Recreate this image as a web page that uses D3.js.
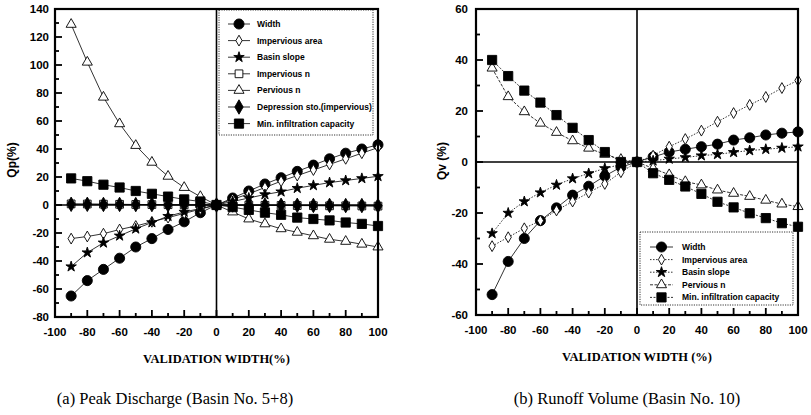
<!DOCTYPE html>
<html>
<head>
<meta charset="utf-8">
<script src="https://cdn.jsdelivr.net/npm/d3@7"></script>
<style>
  html, body { margin: 0; padding: 0; background: #fff; }
  svg { display: block; }
</style>
</head>
<body>
<svg id="chart" width="811" height="415"></svg>
<script>
// Validation width steps (%)
const widthSteps = [-90, -80, -70, -60, -50, -40, -30, -20, -10, 0, 10, 20, 30, 40, 50, 60, 70, 80, 90, 100];
const xTicks = [-100, -80, -60, -40, -20, 0, 20, 40, 60, 80, 100];

// (a) Peak discharge change Qp (%) for each parameter
const qpWidth      = [-65, -54, -46, -38, -30, -24, -17.5, -12, -5.5, 0, 5, 10, 15, 19.5, 24, 28.5, 33, 37, 40, 43];
const qpImpArea    = [-24, -22.5, -20.5, -17.5, -15, -12, -9, -6, -3, 0, 4, 8, 12.5, 17, 21, 25, 29, 33, 37, 41];
const qpSlope      = [-44, -34, -27, -22, -17, -12.5, -8, -5, -2.5, 0, 2.5, 5, 7.5, 9.5, 12, 14, 16, 17.5, 19, 20.5];
const qpImpN       = [0.8, 0.7, 0.6, 0.5, 0.4, 0.3, 0.2, 0.1, 0.1, 0, -0.1, -0.1, -0.2, -0.3, -0.4, -0.5, -0.6, -0.6, -0.7, -0.8];
const qpPervN      = [129, 102, 77, 58, 42.5, 30.5, 20.5, 12.5, 6, 0, -5, -10, -13.5, -17, -19.5, -22, -24.5, -26, -28, -30];
const qpDepStorage = [0.5, 0.5, 0.4, 0.4, 0.3, 0.3, 0.2, 0.1, 0.1, 0, 0, -0.1, -0.1, -0.2, -0.2, -0.3, -0.3, -0.4, -0.4, -0.5];
const qpMinInfil   = [19, 17, 14.5, 12.5, 10, 8, 6, 4, 2.5, 0, -1.5, -3.5, -5.5, -7, -9, -10, -11, -12.5, -13.5, -15];
const qpTicks = [-80, -60, -40, -20, 0, 20, 40, 60, 80, 100, 120, 140];

// (b) Runoff volume change Qv (%) for each parameter
const qvWidth      = [-52, -39, -30, -23, -18, -13, -9.5, -5.5, -2, 0, 2, 3.9, 5, 6, 7, 8.6, 9.5, 10.6, 11.3, 11.8];
const qvImpArea    = [-33, -29.5, -26, -23, -19, -15.5, -12, -8.6, -4, 0, 2.5, 6, 9, 12.3, 15.8, 19.2, 22.4, 25.5, 29, 32];
const qvSlope      = [-28, -20, -15.5, -12, -9, -6.5, -4.5, -2.5, -1, 0, 0.5, 1.2, 1.8, 2.5, 3, 3.8, 4.5, 5, 5.5, 6];
const qvPervN      = [36.8, 25.6, 19.7, 15.2, 11.6, 8.3, 5.4, 3, 1, 0, -2.5, -5, -7.7, -9, -11, -12.3, -13.5, -15, -16.5, -17.5];
const qvMinInfil   = [40, 33.7, 28, 23.3, 18.4, 13.4, 8.6, 3.9, 0, 0, -4.4, -7, -9.6, -12.5, -15.6, -17.8, -20.1, -22, -24, -25.4];
const qvTicks = [-60, -40, -20, 0, 20, 40, 60];

const svg = d3.select("#chart");

// Marker shapes keyed by parameter
const markers = {
  circle:   { type: d3.symbolCircle,   size: 80, fill: "#000" },
  diamondO: { type: d3.symbolDiamond,  size: 34, fill: "#fff" },
  star:     { type: d3.symbolStar,     size: 34, fill: "#000" },
  squareO:  { type: d3.symbolSquare,   size: 60, fill: "#fff" },
  triangle: { type: d3.symbolTriangle, size: 44, fill: "#fff" },
  diamondF: { type: d3.symbolDiamond,  size: 60, fill: "#000" },
  square:   { type: d3.symbolSquare,   size: 85, fill: "#000" }
};

function drawPanel(p) {
  const g = svg.append("g");
  const x = d3.scaleLinear().domain([-100, 100]).range([p.left, p.right]);
  const y = d3.scaleLinear().domain(p.yDomain).range([p.bottom, p.top]);

  // Inward tick marks: major every 20, minor every 10
  const xMinor = d3.range(-90, 100, 20);
  const yMinor = d3.range(p.yDomain[0] + 10, p.yDomain[1], 20);
  const tickG = g.append("g").attr("stroke", "#000").attr("stroke-width", 1.8);
  const xt = xTicks.map(v => ({ v, len: 7 })).concat(xMinor.map(v => ({ v, len: 4 })));
  const yt = p.yTicks.map(v => ({ v, len: 7 })).concat(yMinor.map(v => ({ v, len: 4 })));
  tickG.selectAll(".xt").data(xt).enter().append("line")
    .attr("x1", d => x(d.v)).attr("x2", d => x(d.v))
    .attr("y1", p.bottom).attr("y2", d => p.bottom - d.len);
  tickG.selectAll(".yt").data(yt).enter().append("line")
    .attr("x1", p.left).attr("x2", d => p.left + d.len)
    .attr("y1", d => y(d.v)).attr("y2", d => y(d.v));

  // Tick labels
  g.selectAll(".xlab").data(xTicks).enter().append("text")
    .attr("x", d => x(d)).attr("y", p.bottom + 19)
    .attr("text-anchor", "middle")
    .attr("font-family", "Liberation Sans, Arial, sans-serif")
    .attr("font-weight", "bold").attr("font-size", 11.5)
    .text(d => d);
  g.selectAll(".ylab").data(p.yTicks).enter().append("text")
    .attr("x", p.left - p.yLabGap).attr("y", d => y(d) + 4)
    .attr("text-anchor", "end")
    .attr("font-family", "Liberation Sans, Arial, sans-serif")
    .attr("font-weight", "bold").attr("font-size", 11.5)
    .text(d => d);

  // Zero reference lines
  g.append("line").attr("x1", x(0)).attr("x2", x(0)).attr("y1", p.top).attr("y2", p.bottom)
    .attr("stroke", "#000").attr("stroke-width", 1.6);
  g.append("line").attr("x1", p.left).attr("x2", p.right).attr("y1", y(0)).attr("y2", y(0))
    .attr("stroke", "#000").attr("stroke-width", 1.6);

  // Series lines and markers
  const line = d3.line().x((d, i) => x(widthSteps[i])).y(d => y(d));
  p.series.forEach(s => {
    g.append("path").datum(s.values).attr("d", line)
      .attr("fill", "none").attr("stroke", "#000").attr("stroke-width", 0.8)
      .attr("stroke-dasharray", s.dash || null);
  });
  p.series.forEach(s => {
    const m = markers[s.marker];
    g.selectAll(null).data(s.values).enter().append("path")
      .attr("transform", (d, i) => `translate(${x(widthSteps[i])},${y(d)})`)
      .attr("d", d3.symbol().type(m.type).size(m.size))
      .attr("fill", m.fill).attr("stroke", "#000").attr("stroke-width", 0.9);
  });

  // Frame
  g.append("rect").attr("x", p.left).attr("y", p.top)
    .attr("width", p.right - p.left).attr("height", p.bottom - p.top)
    .attr("fill", "none").attr("stroke", "#000").attr("stroke-width", 2.2);

  // Legend
  const L = p.legend;
  const lg = g.append("g");
  lg.append("rect").attr("x", L.x).attr("y", L.y).attr("width", L.w).attr("height", L.h)
    .attr("fill", "#fff").attr("stroke", "#000").attr("stroke-width", 0.8)
    .attr("stroke-dasharray", "1.2,1.2");
  p.series.forEach((s, i) => {
    const cy = L.y + L.first + i * L.step;
    const m = markers[s.marker];
    lg.append("line").attr("x1", L.x + L.lineX0).attr("x2", L.x + L.lineX1)
      .attr("y1", cy).attr("y2", cy)
      .attr("stroke", "#000").attr("stroke-width", 0.8)
      .attr("stroke-dasharray", s.dash || null);
    lg.append("path")
      .attr("transform", `translate(${L.x + (L.lineX0 + L.lineX1) / 2},${cy})`)
      .attr("d", d3.symbol().type(m.type).size(m.size))
      .attr("fill", m.fill).attr("stroke", "#000").attr("stroke-width", 0.9);
    lg.append("text").attr("x", L.x + L.textX).attr("y", cy + 3)
      .attr("font-family", "Liberation Sans, Arial, sans-serif")
      .attr("font-weight", "bold").attr("font-size", 8.5)
      .text(s.name);
  });

  // Axis titles
  g.append("text").attr("x", (p.left + p.right) / 2).attr("y", p.bottom + 46)
    .attr("text-anchor", "middle")
    .attr("font-family", "Liberation Serif, Times New Roman, serif")
    .attr("font-weight", "bold").attr("font-size", 12.5)
    .text(p.xTitle);
  g.append("text")
    .attr("transform", `translate(${p.yTitleX},${p.yTitleY}) rotate(-90)`)
    .attr("text-anchor", "middle")
    .attr("font-family", "Liberation Sans, Arial, sans-serif")
    .attr("font-weight", "bold").attr("font-size", 12)
    .text(p.yTitle);

  // Caption
  g.append("text").attr("x", p.capX).attr("y", 404)
    .attr("text-anchor", "middle")
    .attr("font-family", "Liberation Serif, Times New Roman, serif")
    .attr("font-size", 16.5)
    .text(p.caption);
}

drawPanel({
  left: 55, right: 378, top: 9, bottom: 317,
  yDomain: [-80, 140], yTicks: qpTicks, yLabGap: 6,
  series: [
    { name: "Width", values: qpWidth, marker: "circle" },
    { name: "Impervious area", values: qpImpArea, marker: "diamondO" },
    { name: "Basin slope", values: qpSlope, marker: "star" },
    { name: "Impervious n", values: qpImpN, marker: "squareO" },
    { name: "Pervious n", values: qpPervN, marker: "triangle" },
    { name: "Depression sto.(impervious)", values: qpDepStorage, marker: "diamondF" },
    { name: "Min. infiltration capacity", values: qpMinInfil, marker: "square" }
  ],
  legend: { x: 219, y: 10, w: 154, h: 125, first: 14, step: 16.6, lineX0: 9, lineX1: 31, textX: 38 },
  xTitle: "VALIDATION WIDTH(%)",
  yTitle: "Qp(%)", yTitleX: 16, yTitleY: 160,
  capX: 175, caption: "(a) Peak Discharge (Basin No. 5+8)"
});

drawPanel({
  left: 476, right: 798, top: 9, bottom: 315,
  yDomain: [-60, 60], yTicks: qvTicks, yLabGap: 8,
  series: [
    { name: "Width", values: qvWidth, marker: "circle" },
    { name: "Impervious area", values: qvImpArea, marker: "diamondO", dash: "1.5,1.5" },
    { name: "Basin slope", values: qvSlope, marker: "star", dash: "1.5,1.5" },
    { name: "Pervious n", values: qvPervN, marker: "triangle", dash: "3,1.5" },
    { name: "Min. infiltration capacity", values: qvMinInfil, marker: "square", dash: "2,1.5" }
  ],
  legend: { x: 640, y: 232, w: 153, h: 73, first: 15, step: 12.6, lineX0: 10, lineX1: 33, textX: 42 },
  xTitle: "VALIDATION WIDTH (%)",
  yTitle: "Qv (%)", yTitleX: 446, yTitleY: 161,
  capX: 627, caption: "(b) Runoff Volume (Basin No. 10)"
});
</script>
</body>
</html>
